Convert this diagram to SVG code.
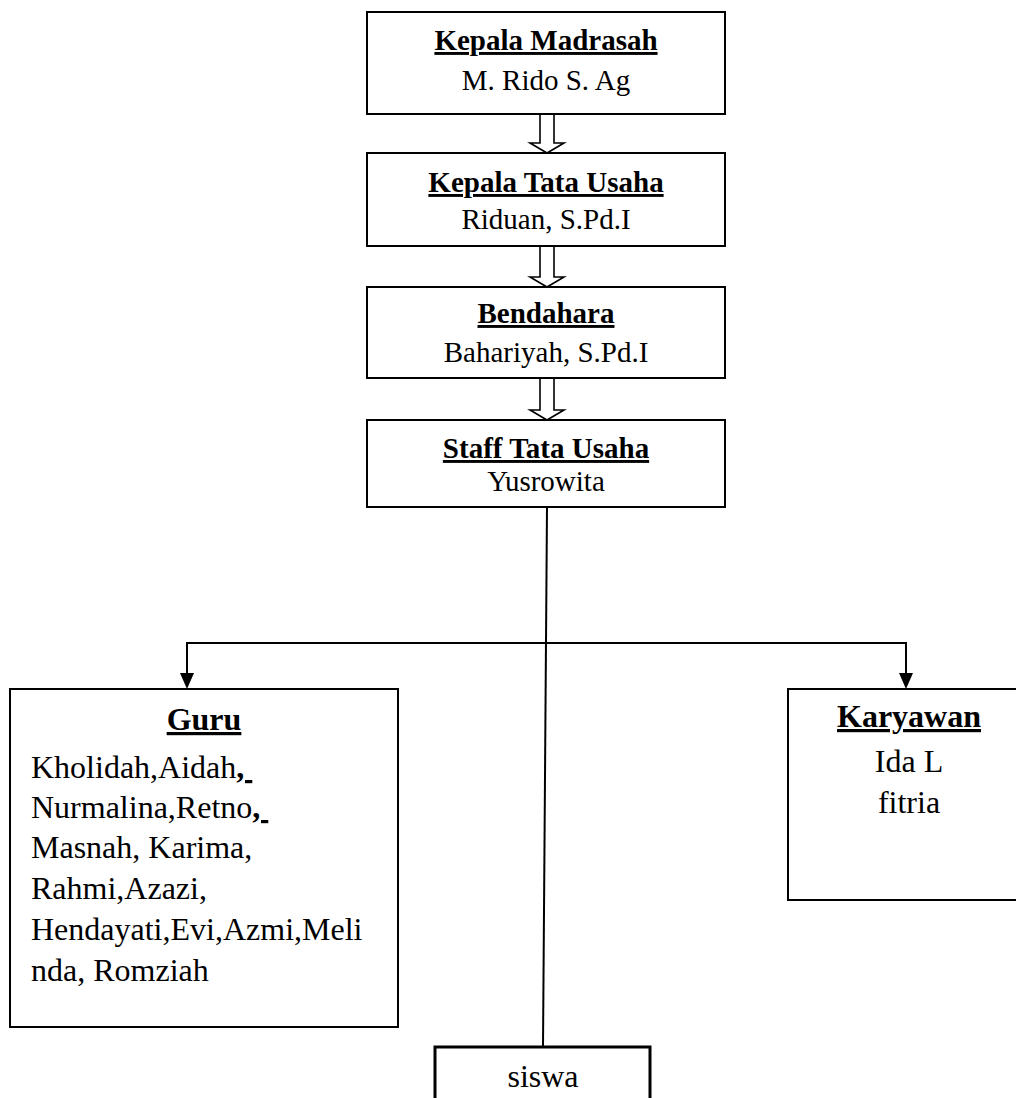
<svg xmlns="http://www.w3.org/2000/svg" width="1016" height="1098" viewBox="0 0 1016 1098">
<style>
.box{fill:#fff;stroke:#000;stroke-width:2}
.thick{fill:#fff;stroke:#000;stroke-width:3}
.t{font-family:"Liberation Serif","Times New Roman",serif;fill:#000}
.h{font-weight:bold;text-decoration:underline;text-decoration-thickness:3px}
.s29{font-size:29px}
.s32{font-size:32px}
.c{text-anchor:middle}
.blk{fill:#fff;stroke:#000;stroke-width:1.6}
.ln{fill:none;stroke:#000;stroke-width:2}
.head{fill:#000}
</style>
<rect width="1016" height="1098" fill="#fff"/>
<g id="connectors">
<path class="blk" d="M540,114 V143 H530 L547,153 L564,143 H554 V114"/>
<path class="blk" d="M540,246 V277 H530 L547,287 L564,277 H554 V246"/>
<path class="blk" d="M540,378 V410 H530 L547,420 L564,410 H554 V378"/>
<line class="ln" x1="547" y1="507" x2="543" y2="1047"/>
<path class="ln" d="M187,675 V643 H906 V675"/>
<path class="head" d="M180,673 L194,673 L187,689 Z"/>
<path class="head" d="M899,673 L913,673 L906,689 Z"/>
</g>
<g id="kepala-madrasah">
<rect class="box" x="367" y="12" width="358" height="102"/>
<text class="t s29 h c" x="546" y="50">Kepala Madrasah</text>
<text class="t s29 c" x="546" y="90">M. Rido S. Ag</text>
</g>
<g id="kepala-tata-usaha">
<rect class="box" x="367" y="153" width="358" height="93"/>
<text class="t s29 h c" x="546" y="192">Kepala Tata Usaha</text>
<text class="t s29 c" x="546" y="229">Riduan, S.Pd.I</text>
</g>
<g id="bendahara">
<rect class="box" x="367" y="287" width="358" height="91"/>
<text class="t s29 h c" x="546" y="323">Bendahara</text>
<text class="t s29 c" x="546" y="362">Bahariyah, S.Pd.I</text>
</g>
<g id="staff-tata-usaha">
<rect class="box" x="367" y="420" width="358" height="87"/>
<text class="t s29 h c" x="546" y="458">Staff Tata Usaha</text>
<text class="t s29 c" x="546" y="491">Yusrowita</text>
</g>
<g id="guru">
<rect class="box" x="10" y="689" width="388" height="338"/>
<text class="t s32 h c" x="204" y="730">Guru</text>
<text class="t s32" x="31" y="778" xml:space="preserve">Kholidah,Aidah<tspan class="h">, </tspan></text>
<text class="t s32" x="31" y="818" xml:space="preserve">Nurmalina,Retno<tspan class="h">, </tspan></text>
<text class="t s32" x="31" y="858">Masnah, Karima,</text>
<text class="t s32" x="31" y="899">Rahmi,Azazi,</text>
<text class="t s32" x="31" y="940">Hendayati,Evi,Azmi,Meli</text>
<text class="t s32" x="31" y="981">nda, Romziah</text>
</g>
<g id="karyawan">
<rect class="box" x="788" y="689" width="250" height="211"/>
<text class="t s32 h c" x="909" y="727">Karyawan</text>
<text class="t s32 c" x="909" y="772">Ida L</text>
<text class="t s32 c" x="909" y="813">fitria</text>
</g>
<g id="siswa">
<rect class="thick" x="435" y="1047" width="215" height="70"/>
<text class="t s32 c" x="543" y="1087">siswa</text>
</g>
</svg>
